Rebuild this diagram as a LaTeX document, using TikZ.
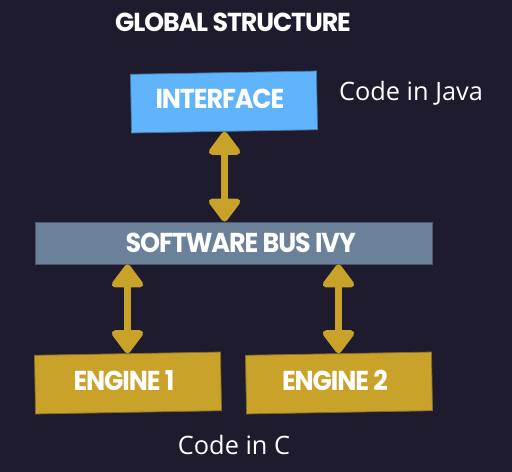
\documentclass[tikz,border=0pt]{standalone}
\usepackage{fontspec}
\usepackage{tikz}
\usetikzlibrary{arrows.meta}
\newfontfamily\boldfont[LetterSpace=-4,FakeStretch=0.93]{Poppins}
\newfontfamily\titlefont[LetterSpace=-4,FakeStretch=0.97]{Poppins}
\newfontfamily\lightfont{Open Sans}

\begin{document}
\begin{tikzpicture}[x=0.75pt,y=-0.75pt]

    \definecolor{darkbg}{RGB}{29,27,45}
    \definecolor{skyblue}{RGB}{96,180,252}
    \definecolor{busgrey}{RGB}{106,129,153}
    \definecolor{enginegold}{RGB}{201,162,42}
    \tikzset{
        block/.style={inner sep=0pt, draw=darkbg!40!#1, fill=#1, line width=0.6pt, minimum width=139.5pt, minimum height=44pt},
        blocktext/.style={text=white, font=\boldfont\bfseries\fontsize{20.5}{24}\selectfont},
        note/.style={text=white, font=\lightfont\fontsize{19}{22}\selectfont},
        link/.style={enginegold, line width=5.5pt, {Triangle[width=27pt,length=19pt,round]}-{Triangle[width=27pt,length=19pt,round]}}
    }

    % Background and bounding box
    \fill[darkbg] (0,0) rectangle (512,472);
    \useasboundingbox (0,0) rectangle (512,472);

    % Title
    \node[text=white, font=\titlefont\bfseries\fontsize{19.5}{23}\selectfont] (title) at (233,22) {GLOBAL STRUCTURE};

    % The interface, written in Java
    \node[block=skyblue, rotate=1, label={[blocktext, xshift=-3pt, yshift=2pt]center:INTERFACE}] (interface) at (224,102) {};
    \node[note] (java) at (411,93) {Code in Java};

    % The software bus
    \node[block=busgrey, minimum width=297.75pt, minimum height=31.5pt, label={[blocktext, xshift=5.5pt]center:SOFTWARE BUS IVY}] (bus) at (233.5,243) {};

    % The two engines, written in C
    \node[block=enginegold, rotate=1, label={[blocktext, xshift=-3pt, yshift=2pt]center:ENGINE 1}] (engine1) at (128,383) {};
    \node[block=enginegold, rotate=1, label={[blocktext, xshift=-3pt, yshift=2pt]center:ENGINE 2}] (engine2) at (339,383) {};
    \node[note] (cnote) at (234,445) {Code in C};

    % Double arrows between the boxes
    \draw[link] (interface.south) -- (bus.north -| interface.south);
    \draw[link] (bus.south -| engine1.north) -- (engine1.north);
    \draw[link] (bus.south -| engine2.north) -- (engine2.north);

\end{tikzpicture}
\end{document}
